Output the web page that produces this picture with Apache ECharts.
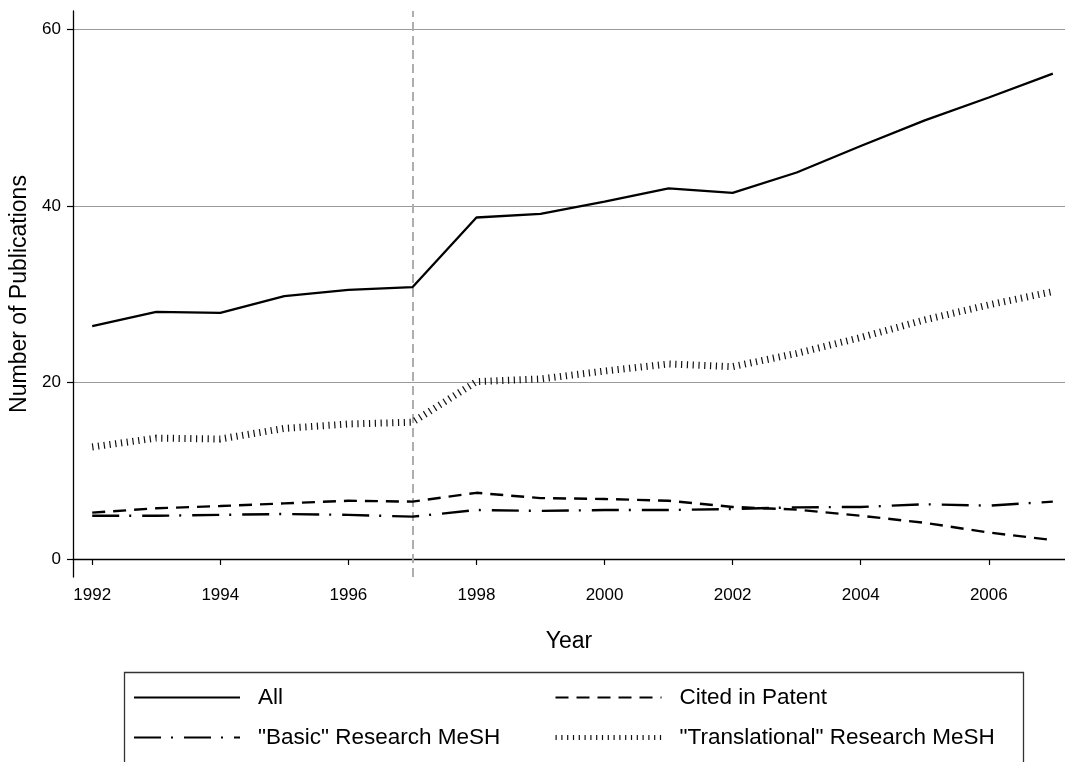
<!DOCTYPE html>
<html>
<head>
<meta charset="utf-8">
<script src="https://cdn.jsdelivr.net/npm/echarts@6/dist/echarts.min.js"></script>
<style>
  html, body { margin: 0; padding: 0; background: #fff; }
  #chart { width: 1065px; height: 762px; }
</style>
</head>
<body>
<div id="chart"></div>
<script>
// ---- Data ----
const years = [1992, 1993, 1994, 1995, 1996, 1997, 1998, 1999, 2000, 2001, 2002, 2003, 2004, 2005, 2006, 2007];
const allPubs = [26.4, 28.0, 27.9, 29.8, 30.5, 30.8, 38.7, 39.1, 40.5, 42.0, 41.5, 43.8, 46.8, 49.7, 52.3, 55.0];
const citedInPatent = [5.25, 5.75, 6.0, 6.3, 6.6, 6.5, 7.5, 6.9, 6.8, 6.6, 5.9, 5.6, 4.9, 4.1, 3.0, 2.15];
const basicMeSH = [4.9, 4.9, 5.0, 5.1, 5.0, 4.8, 5.55, 5.45, 5.55, 5.55, 5.67, 5.85, 5.9, 6.2, 6.05, 6.5];
const translationalMeSH = [12.7, 13.7, 13.6, 14.8, 15.3, 15.5, 20.1, 20.4, 21.3, 22.1, 21.8, 23.3, 25.1, 27.1, 28.8, 30.3];
const xTickValues = [1992, 1994, 1996, 1998, 2000, 2002, 2004, 2006];
const yTickValues = [0, 20, 40, 60];
const eventYear = 1997;
const seriesNames = ['All', 'Cited in Patent', '"Basic" Research MeSH', '"Translational" Research MeSH'];

const pairs = arr => years.map((y, i) => [y, arr[i]]);
const FONT = '"Liberation Sans", Arial, Helvetica, sans-serif';

const chart = echarts.init(document.getElementById('chart'), null, { renderer: 'canvas' });

const legendCommon = {
  orient: 'vertical',
  top: 686,
  padding: 0,
  icon: 'inherit',
  itemWidth: 106, itemHeight: 20, itemGap: 17,
  itemStyle: { opacity: 0 },
  textStyle: { fontSize: 22.5, color: '#000', fontFamily: FONT, lineHeight: 22, padding: [0, 0, 0, 13] },
  selectedMode: false
};

const option = {
  backgroundColor: '#ffffff',
  animation: false,
  textStyle: { fontFamily: FONT, color: '#000' },
  grid: { left: 72, right: 0, top: 11, bottom: 185, containLabel: false },
  xAxis: {
    type: 'value',
    min: 1991.7,
    max: 2007.19,
    name: 'Year',
    nameLocation: 'middle',
    nameGap: 53,
    nameTextStyle: { fontSize: 23, color: '#000', fontFamily: FONT },
    axisLine: { show: true, lineStyle: { color: '#000', width: 1.3 } },
    axisTick: { show: true, length: 6, lineStyle: { color: '#000', width: 1.2 }, customValues: xTickValues },
    axisLabel: { show: true, fontSize: 17, color: '#000', margin: 10, fontFamily: FONT,
                 customValues: xTickValues, formatter: v => String(v) },
    splitLine: { show: false }
  },
  yAxis: {
    type: 'value',
    min: -2.04,
    max: 62.1,
    name: 'Number of Publications',
    nameLocation: 'middle',
    nameGap: 42,
    nameTextStyle: { fontSize: 23, color: '#000', fontFamily: FONT },
    axisLine: { show: true, lineStyle: { color: '#000', width: 1.3 } },
    axisTick: { show: true, length: 6, lineStyle: { color: '#000', width: 1.2 }, customValues: yTickValues },
    axisLabel: { show: true, fontSize: 17, color: '#000', margin: 12, fontFamily: FONT,
                 customValues: yTickValues, formatter: v => String(v) },
    splitLine: { show: true, lineStyle: { color: '#9a9a9a', width: 1 } }
  },
  legend: [
    Object.assign({}, legendCommon, {
      left: 133,
      data: [{ name: seriesNames[0] }, { name: seriesNames[2] }]
    }),
    Object.assign({}, legendCommon, {
      left: 553,
      data: [{ name: seriesNames[1] }, { name: seriesNames[3], lineStyle: { width: 5 } }]
    })
  ],
  graphic: [
    {
      type: 'rect',
      left: 122, top: 670,
      shape: { width: 899, height: 91 },
      style: { fill: 'none', stroke: '#333', lineWidth: 1.3 },
      silent: true
    }
  ],
  series: [
    {
      name: seriesNames[0],
      type: 'line',
      data: pairs(allPubs),
      symbol: 'none',
      color: '#000',
      itemStyle: { opacity: 0 },
      lineStyle: { color: '#000', width: 2.3, type: 'solid' },
      z: 5,
      markLine: {
        silent: true,
        symbol: 'none',
        label: { show: false },
        lineStyle: { color: '#aeaeae', width: 2, type: [9, 5] },
        data: [{ xAxis: eventYear }],
        z: 1
      }
    },
    {
      name: seriesNames[1],
      type: 'line',
      data: pairs(citedInPatent),
      symbol: 'none',
      color: '#000',
      itemStyle: { opacity: 0 },
      lineStyle: { color: '#000', width: 2.4, type: [13, 8] },
      z: 5
    },
    {
      name: seriesNames[2],
      type: 'line',
      data: pairs(basicMeSH),
      symbol: 'none',
      color: '#000',
      itemStyle: { opacity: 0 },
      lineStyle: { color: '#000', width: 2.4, type: [27, 10, 2, 11] },
      z: 5
    },
    {
      name: seriesNames[3],
      type: 'line',
      data: pairs(translationalMeSH),
      symbol: 'none',
      color: '#000',
      itemStyle: { opacity: 0 },
      lineStyle: { color: '#111', width: 7, type: [1.2, 4.6], cap: 'butt' },
      z: 5
    }
  ]
};

chart.setOption(option);
</script>
</body>
</html>
